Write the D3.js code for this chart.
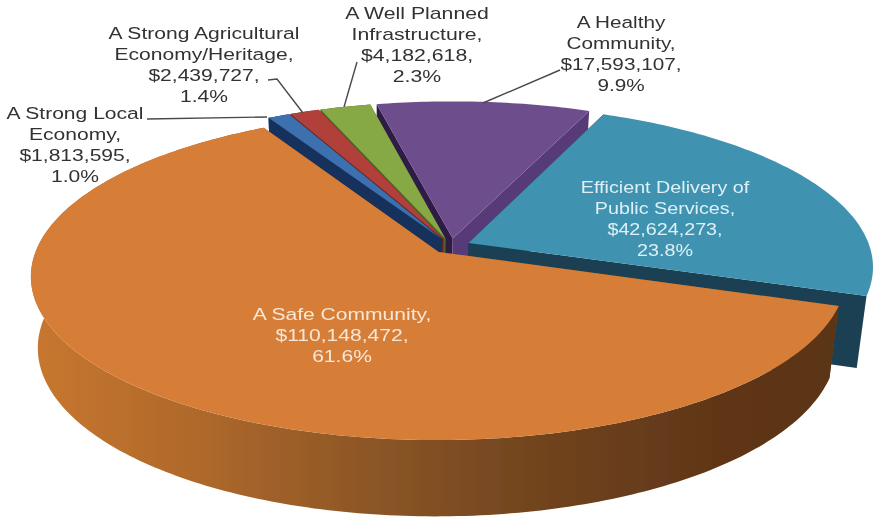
<!DOCTYPE html>
<html>
<head>
<meta charset="utf-8">
<script src="https://cdnjs.cloudflare.com/ajax/libs/d3/7.8.5/d3.min.js"></script>
<style>
  html, body { margin: 0; padding: 0; background: #fff; }
  svg { display: block; }
  text { font-family: "Liberation Sans", Arial, sans-serif; font-size: 17px; }
</style>
</head>
<body>
<div id="chart"></div>
<script>
/*** DATA ***/
const categories = ['A Safe Community', 'A Strong Local Economy', 'A Strong Agricultural Economy/Heritage', 'A Well Planned Infrastructure', 'A Healthy Community', 'Efficient Delivery of Public Services'];
const amounts = [110148472, 1813595, 2439727, 4182618, 17593107, 42624273];
const percents = ['61.6%', '1.0%', '1.4%', '2.3%', '9.9%', '23.8%'];
const nameLines = [
  ['A Safe Community,'],
  ['A Strong Local', 'Economy,'],
  ['A Strong Agricultural', 'Economy/Heritage,'],
  ['A Well Planned', 'Infrastructure,'],
  ['A Healthy', 'Community,'],
  ['Efficient Delivery of', 'Public Services,']
];

/*** STYLES AND LAYOUT ***/
const topColors = ['#d67d38', '#3d70ae', '#b13f3a', '#86a845', '#6d4e8c', '#3f93b0'];
const startWallColors = ['#7a4a20', '#15335c', '#6a2522', '#4f6628', '#2f1f47', '#1b4152'];
const endWallColors = ['#7a4a20', '#15335c', '#6a2522', '#4f6628', '#573a78', '#1b4152'];
const textColors = ['#f6e7d6', '#333', '#333', '#333', '#333', '#dcf0f6'];
const labelX = [342, 75, 204, 417, 621, 665];
const labelY = [314, 113, 33, 13, 22, 187];
const labelStretch = [1.24, 1.24, 1.24, 1.25, 1.22, 1.16];
const leaders = [
  null,
  [[147, 119], [267, 117]],
  [[268, 80], [277, 79], [303, 113]],
  [[357, 62], [344, 107]],
  [[560, 70], [483, 103]],
  null
];
const drawOrder = [4, 3, 2, 1, 5, 0];

const width = 877, height = 522;
const explode = 0.048;
const startDeg = 108.7;

//tilted disc: x and y scales work on perspective-divided disc coords
const perspective = 0.145;
const xScale = d3.scaleLinear().domain([-1, 1]).range([451 - 401, 451 + 401]);
const yScale = d3.scaleLinear().domain([-1, 1]).range([246 + 159, 246 - 159]);
const cy = yScale(0);
const vanishX = 377;

function project(u, v, lower) {
  let w = 1 + perspective * v;
  let x = xScale(u / w), y = yScale(v / w);
  if (lower) {
    //bottom face is slightly narrower and further down at the front
    x = vanishX + (x - vanishX) * 0.98;
    y = y + (y - cy) * 0.03 + 70.5;
  }
  return [x, y];
}

function rimPoints(d, lower) {
  let mid = (d.startAngle + d.endAngle) / 2;
  let ox = explode * Math.sin(mid), oy = explode * Math.cos(mid);
  let steps = Math.max(4, Math.ceil((d.endAngle - d.startAngle) * 60));
  return d3.range(steps + 1).map(function(i) {
    let a = d.startAngle + (d.endAngle - d.startAngle) * i / steps;
    return project(ox + Math.sin(a), oy + Math.cos(a), lower);
  });
}

function apexPoint(d, lower) {
  let mid = (d.startAngle + d.endAngle) / 2;
  return project(explode * Math.sin(mid), explode * Math.cos(mid), lower);
}

/*** DRAW ***/
const pie = d3.pie().sort(null)
  .startAngle(startDeg * Math.PI / 180)
  .endAngle(startDeg * Math.PI / 180 + 2 * Math.PI);
const slices = pie(amounts);
const line = d3.line();
const closed = pts => line(pts) + 'Z';

const svg = d3.select('#chart').append('svg')
  .attr('width', width)
  .attr('height', height);

//original is a soft upscaled image
const defs = svg.append('defs');
defs.append('filter').attr('id', 'soft')
  .append('feGaussianBlur').attr('stdDeviation', 0.55);

const wallGrad = defs.append('linearGradient')
  .attr('id', 'orange-wall')
  .attr('gradientUnits', 'userSpaceOnUse')
  .attr('x1', 30).attr('x2', 840).attr('y1', 0).attr('y2', 0);
[[0, '#c8772f'], [0.2, '#b0692b'], [0.4, '#8f5827'], [0.6, '#74461f'], [0.85, '#5f3618'], [1, '#5a3416']].forEach(function(s) {
  wallGrad.append('stop').attr('offset', s[0]).attr('stop-color', s[1]);
});

const pieLayer = svg.append('g').attr('filter', 'url(#soft)');

drawOrder.forEach(function(i) {
  let d = slices[i];
  let g = pieLayer.append('g').attr('class', 'slice');
  let top = rimPoints(d, false), bottom = rimPoints(d, true);
  let apexTop = apexPoint(d, false), apexBottom = apexPoint(d, true);
  let last = top.length - 1;
  let rimFill = i == 0 ? 'url(#orange-wall)' : startWallColors[i];

  //cut faces
  g.append('path')
    .attr('d', closed([apexTop, top[0], bottom[0], apexBottom]))
    .attr('fill', startWallColors[i]);
  g.append('path')
    .attr('d', closed([apexTop, top[last], bottom[last], apexBottom]))
    .attr('fill', endWallColors[i]);

  //outer wall, purple and teal show only their cut faces
  if (i != 4 && i != 5) {
    g.append('path')
      .attr('d', closed(top.concat(bottom.slice().reverse())))
      .attr('fill', rimFill);
  }

  //top face
  g.append('path')
    .attr('d', closed([apexTop].concat(top)))
    .attr('fill', topColors[i]);
});

//leader lines
const lineLayer = svg.append('g').attr('filter', 'url(#soft)');
leaders.forEach(function(pts) {
  if (!pts) return;
  lineLayer.append('path')
    .attr('d', line(pts))
    .attr('fill', 'none')
    .attr('stroke', '#4a4a4a')
    .attr('stroke-width', 1.4);
});

//labels, the source image is stretched sideways
const money = d3.format('$,');
const textLayer = svg.append('g').attr('filter', 'url(#soft)');
categories.forEach(function(name, i) {
  let rows = nameLines[i].concat([money(amounts[i]) + ',', percents[i]]);
  let label = textLayer.append('text')
    .attr('text-anchor', 'middle')
    .attr('fill', textColors[i])
    .attr('transform', 'translate(' + labelX[i] + ',' + labelY[i] + ') scale(' + labelStretch[i] + ',1)');
  rows.forEach(function(row, r) {
    label.append('tspan')
      .attr('x', 0)
      .attr('y', r * 20.9 + 6)
      .text(row);
  });
});
</script>
</body>
</html>
